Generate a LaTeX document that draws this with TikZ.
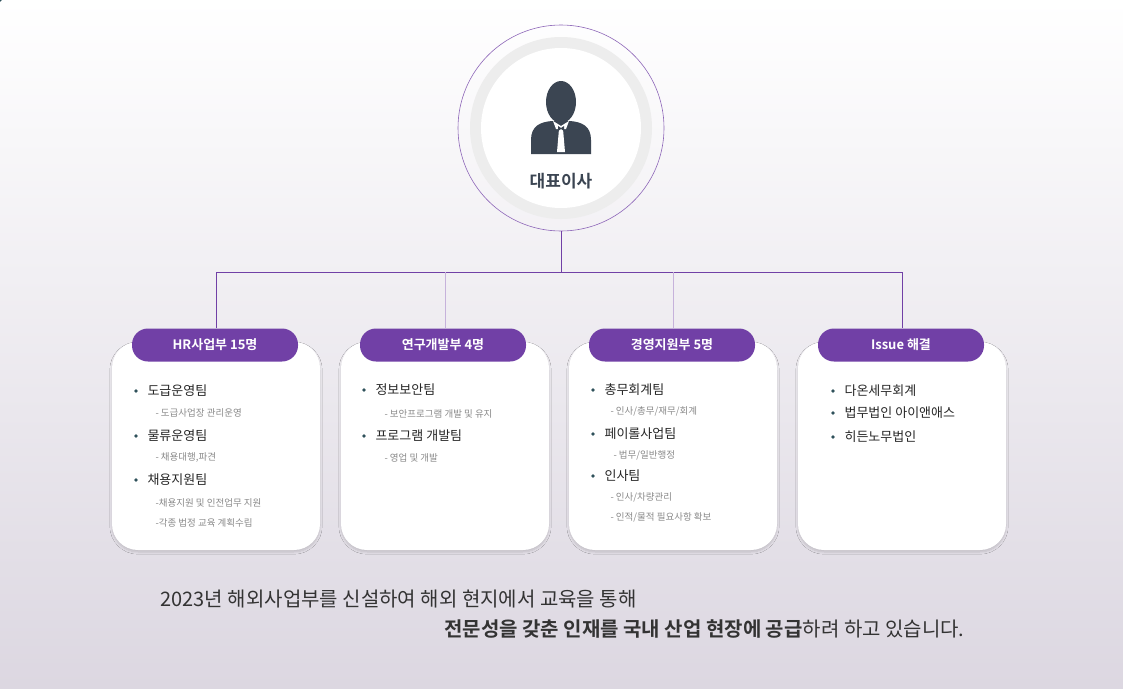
\documentclass[tikz,border=0pt]{standalone}
\usepackage{fontspec}
\setmainfont{Noto Sans CJK KR}
\newfontfamily\krb{Noto Sans CJK KR Bold}
\usetikzlibrary{shadows.blur}
\definecolor{pur}{HTML}{7140A6}
\definecolor{ico}{HTML}{3B4552}
\definecolor{sub}{HTML}{8A8A8A}
\definecolor{bg}{HTML}{DCD7E1}
\begin{document}
\begin{tikzpicture}[x=1pt,y=-1pt,
 card/.style={fill=white,rounded corners=26pt,minimum width=208pt,minimum height=208pt,blur shadow={shadow blur steps=6,shadow xshift=0pt,shadow yshift=-2pt,shadow opacity=15}},
 pill/.style={fill=pur,rounded corners=16pt,minimum width=166pt,minimum height=33pt,text=white,font=\krb\fontsize{13}{15}\selectfont},
 item/.style={anchor=west,font=\fontsize{13}{15}\selectfont,text=black!85},
 subi/.style={anchor=west,font=\fontsize{9.5}{11}\selectfont,text=sub},
 blt/.style={circle,fill=ico!80!teal,inner sep=1.3pt},
 ln/.style={pur,line width=0.7pt}]
\shade[top color=white,bottom color=bg] (0,0) rectangle (1123,688);
\useasboundingbox (0,0) rectangle (1123,688);
% ceo
\node[circle,draw=pur!80,line width=0.6pt,minimum size=206pt] (ceo) at (561,128) {};
\fill[black!7] (561,128) circle (91);
\fill[white] (561,128) circle (80);
\fill[ico] (561,102) ellipse (15 and 21);
\fill[ico] (531,154) -- (531,140) .. controls (531,126) and (540,122) .. (552,121) -- (570,121) .. controls (582,122) and (591,126) .. (591,140) -- (591,154) -- cycle;
\fill[white] (553,121) -- (561,126) -- (569,121) -- (566,129) -- (563,129) -- (565,152) -- (557,152) -- (559,129) -- (556,129) -- cycle;
\fill[ico] (558,126) -- (561,128) -- (564,126) -- (564,131) -- (561,129) -- (558,131) -- cycle;
\node[font=\krb\fontsize{17}{19}\selectfont,text=ico] (ceot) at (561,181) {대표이사};
% cards
\foreach \i/\x in {1/216,2/445,3/673,4/902}{
 \node[card] (c\i) at (\x,446) {};
}
\node[pill] (p1) at (215,345) {HR사업부 15명};
\node[pill] (p2) at (443,345) {연구개발부 4명};
\node[pill] (p3) at (672,345) {경영지원부 5명};
\node[pill] (p4) at (901,345) {Issue 해결};
\coordinate (j) at (561,272);
\draw[ln] (ceo.south) -- (j);
\draw[ln] (p1.north -| 216,0) |- (j);
\draw[ln] (p4.north -| 902,0) |- (j);
\draw[ln,pur!40] (445,272) -- (p2.north -| 445,0);
\draw[ln,pur!40] (673,272) -- (p3.north -| 673,0);
% card 1
\node[blt] (b11) at (136,391) {}; \node[item] (t11) at (144,391) {도급운영팀};
\node[subi] (s11) at (152,413) {- 도급사업장 관리운영};
\node[blt] (b12) at (136,436) {}; \node[item] (t12) at (144,436) {물류운영팀};
\node[subi] (s12) at (152,457) {- 채용대행,파견};
\node[blt] (b13) at (136,480) {}; \node[item] (t13) at (144,480) {채용지원팀};
\node[subi] (s13) at (152,503) {-채용지원 및 인전업무 지원};
\node[subi] (s14) at (152,523) {-각종 법정 교육 계획수립};
% card 2
\node[blt] (b21) at (364,390) {}; \node[item] (t21) at (372,390) {정보보안팀};
\node[subi] (s21) at (381,414) {- 보안프로그램 개발 및 유지};
\node[blt] (b22) at (364,436) {}; \node[item] (t22) at (372,436) {프로그램 개발팀};
\node[subi] (s22) at (381,458) {- 영업 및 개발};
% card 3
\node[blt] (b31) at (593,390) {}; \node[item] (t31) at (601,390) {총무회계팀};
\node[subi] (s31) at (607,411) {- 인사/총무/재무/회계};
\node[blt] (b32) at (593,434) {}; \node[item] (t32) at (601,434) {페이롤사업팀};
\node[subi] (s32) at (610,455) {- 법무/일반행정};
\node[blt] (b33) at (593,476) {}; \node[item] (t33) at (601,476) {인사팀};
\node[subi] (s33) at (607,497) {- 인사/차량관리};
\node[blt] (b34) at (0,0) {}; 
\node[subi] (s34) at (607,517) {- 인적/물적 필요사항 확보};
% card 4
\node[blt] (b41) at (833,391) {}; \node[item] (t41) at (841,391) {다온세무회계};
\node[blt] (b42) at (833,413) {}; \node[item] (t42) at (841,413) {법무법인 아이앤애스};
\node[blt] (b43) at (833,437) {}; \node[item] (t43) at (841,437) {히든노무법인};
% bottom
\node[anchor=west,font=\fontsize{20}{24}\selectfont,text=black!80] (l1) at (157,599) {2023년 해외사업부를 신설하여 해외 현지에서 교육을 통해};
\node[anchor=east,font=\fontsize{20}{24}\selectfont,text=black!80] (l2) at (968,629) {{\krb 전문성을 갖춘 인재를 국내 산업 현장에 공급}하려 하고 있습니다.};
\end{tikzpicture}
\end{document}
